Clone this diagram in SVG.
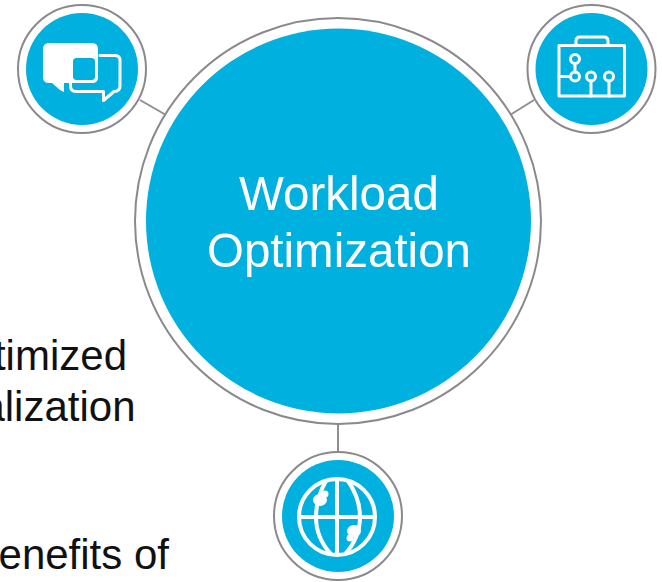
<svg xmlns="http://www.w3.org/2000/svg" width="662" height="582" viewBox="0 0 662 582">
<style>
.ring{fill:#fff;stroke:#8a8a8a;stroke-width:2}
.disc{fill:#00b0de}
.ln{fill:none;stroke:#fff;stroke-width:3;stroke-linejoin:round;stroke-linecap:round}
.gl{fill:none;stroke:#fff;stroke-width:4;stroke-linecap:butt}
.conn{stroke:#8f8f8f;stroke-width:2;fill:none}
text{font-family:"Liberation Sans",Arial,sans-serif}
.body{font-size:42px;fill:#111;text-anchor:end}
.title{font-size:47.5px;fill:#fff;text-anchor:middle}
</style>
<defs><filter id="s" x="-5%" y="-5%" width="110%" height="110%"><feGaussianBlur stdDeviation="0.5"/></filter></defs>
<rect width="662" height="582" fill="#fff"/>
<g id="text-fragments">
<text class="body" x="127" y="370">timized</text>
<text class="body" x="135.500" y="421">alization</text>
<text class="body" x="169" y="569">enefits of</text>
</g>
<g id="connectors" filter="url(#s)">
<path class="conn" d="M140 100L166 115"/>
<path class="conn" d="M534 100L510 115"/>
<path class="conn" d="M338 424V452"/>
</g>
<g id="node-center" filter="url(#s)">
<circle class="ring" cx="338" cy="221" r="203"/>
<circle class="disc" cx="338.500" cy="221" r="192.500"/>
<text class="title" x="339" y="210">Workload</text>
<text class="title" x="339" y="267">Optimization</text>
</g>
<g id="node-chat" filter="url(#s)">
<circle class="ring" cx="82" cy="69" r="64"/>
<circle class="disc" cx="82" cy="69" r="56"/>
<path class="ln" d="M100 55.500H115Q120 55.500 120 60.500V86Q120 91.500 114 91.500L103.500 100.500V91.500H76Q70.500 91.500 70.500 86V81"/>
<path fill="#fff" d="M49 43H92Q98 43 98 49V77Q98 83 92 83H64V92L60 90 52 83H49Q43 83 43 77V49Q43 43 49 43Z"/>
<rect x="73" y="58" width="22" height="22" rx="3.500" fill="#00b0de"/>
</g>
<g id="node-briefcase" filter="url(#s)">
<circle class="ring" cx="591.500" cy="69" r="64"/>
<circle class="disc" cx="591.500" cy="69" r="56"/>
<rect class="ln" x="559" y="45.500" width="65.500" height="50.500"/>
<path class="ln" d="M576 45V41Q576 37 580 37H604Q608 37 608 41V45"/>
<circle class="ln" cx="575" cy="59" r="4.500"/>
<circle class="ln" cx="575" cy="76.500" r="4.500"/>
<circle class="ln" cx="591" cy="76.500" r="4.500"/>
<circle class="ln" cx="609" cy="76.500" r="4.500"/>
<path class="ln" d="M575 63.500V72M570.500 76.500H559M591 81V96M609 81V96"/>
</g>
<g id="node-globe" filter="url(#s)">
<circle class="ring" cx="338" cy="516" r="64"/>
<circle class="disc" cx="338" cy="516" r="56"/>
<circle class="gl" cx="337" cy="517" r="38"/>
<path class="gl" d="M337 479V555M299 517H375"/>
<path class="gl" d="M326 481Q316 498 316 517Q316 538 331 554"/>
<path class="gl" d="M348 481Q360 498 360 517Q360 538 345 554"/>
<ellipse cx="320" cy="500" rx="7" ry="6" fill="#fff"/>
<circle cx="325" cy="494" r="3.500" fill="#fff"/>
<ellipse cx="354" cy="531" rx="7" ry="6" fill="#fff"/>
<circle cx="350" cy="538" r="3.500" fill="#fff"/>
</g>
</svg>
